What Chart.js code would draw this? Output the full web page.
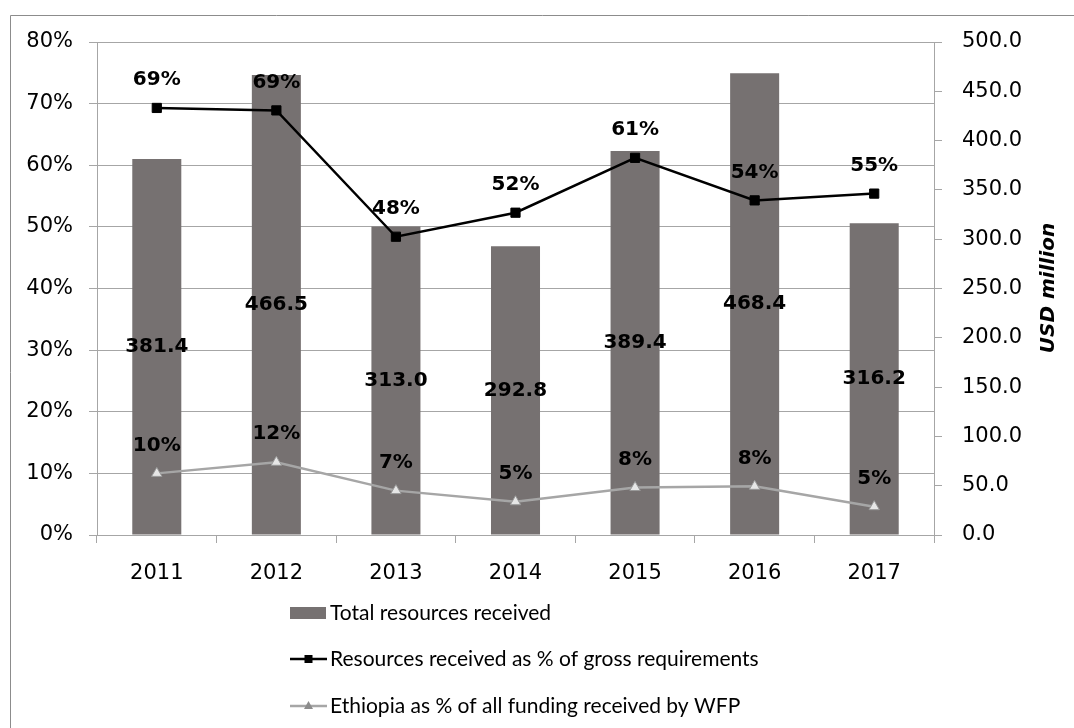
<!DOCTYPE html>
<html>
<head>
<meta charset="utf-8">
<script src="https://cdn.jsdelivr.net/npm/chart.js@4"></script>
<style>
  html, body { margin: 0; padding: 0; background: #fff; }
  #wrap { position: relative; width: 1074px; height: 728px; }
</style>
</head>
<body>
<div id="wrap"><canvas id="funding_chart" width="1074" height="728"></canvas></div>
<script>
// years on the x axis
const years = ['2011', '2012', '2013', '2014', '2015', '2016', '2017'];
// USD million, right axis
const totalReceived = [381.4, 466.5, 313.0, 292.8, 389.4, 468.4, 316.2];
// shares, left axis
const pctOfGross = [0.693, 0.689, 0.484, 0.523, 0.612, 0.543, 0.554];
const pctOfWfp = [0.100, 0.118, 0.072, 0.054, 0.077, 0.079, 0.046];

const seriesNames = [
  'Total resources received',
  'Resources received as % of gross requirements',
  'Ethiopia as % of all funding received by WFP'
];

const BAR_GREY = '#767171';
const LINE_GREY = '#a6a6a6';
const GRID = '#a6a6a6';
const TICK_FONT = { family: 'DejaVu Sans', size: 21 };

// kill the automatic label overhang so the plot box lands where we want it
function noOverhang(scale) {
  scale.paddingTop = 0;
  scale.paddingBottom = 0;
  scale.paddingLeft = 0;
  scale.paddingRight = 0;
}

const valueLabels = {
  id: 'valueLabels',
  afterDatasetsDraw(chart) {
    const ctx = chart.ctx;
    ctx.save();
    ctx.font = 'bold 20px "DejaVu Sans"';
    ctx.fillStyle = '#000';
    ctx.textAlign = 'center';
    ctx.textBaseline = 'middle';
    chart.data.datasets.forEach((ds, i) => {
      const meta = chart.getDatasetMeta(i);
      meta.data.forEach((el, j) => {
        const v = ds.data[j];
        if (ds.type === 'bar') {
          ctx.fillText(v.toFixed(1), el.x, (el.y + el.base) / 2);
        } else {
          ctx.fillText(Math.round(v * 100) + '%', el.x, el.y - 28);
        }
      });
    });
    ctx.restore();
  }
};

const frameAndLegend = {
  id: 'frameAndLegend',
  beforeDraw(chart) {
    const ctx = chart.ctx;
    ctx.save();
    ctx.strokeStyle = '#8c8c8c';
    ctx.lineWidth = 1;
    ctx.beginPath();
    ctx.moveTo(10.5, 740);
    ctx.lineTo(10.5, 15.5);
    ctx.lineTo(1080, 15.5);
    ctx.stroke();
    ctx.restore();
  },
  afterDraw(chart) {
    const ctx = chart.ctx;
    const x0 = 290, x1 = 327, tx = 330;
    const rows = [613, 659, 706];
    ctx.save();

    // bar swatch
    ctx.fillStyle = BAR_GREY;
    ctx.fillRect(x0, rows[0] - 6, x1 - x0 - 1, 12);

    // black line with square
    ctx.strokeStyle = '#000';
    ctx.lineWidth = 2.5;
    ctx.beginPath();
    ctx.moveTo(x0, rows[1]);
    ctx.lineTo(x1, rows[1]);
    ctx.stroke();
    ctx.fillStyle = '#000';
    ctx.fillRect((x0 + x1) / 2 - 4, rows[1] - 4, 8, 8);

    // grey line with triangle
    ctx.strokeStyle = LINE_GREY;
    ctx.beginPath();
    ctx.moveTo(x0, rows[2]);
    ctx.lineTo(x1, rows[2]);
    ctx.stroke();
    const cx = (x0 + x1) / 2;
    ctx.fillStyle = '#8c8c8c';
    ctx.beginPath();
    ctx.moveTo(cx, rows[2] - 5);
    ctx.lineTo(cx + 4.5, rows[2] + 3);
    ctx.lineTo(cx - 4.5, rows[2] + 3);
    ctx.closePath();
    ctx.fill();

    ctx.fillStyle = '#000';
    ctx.font = '21px Lato';
    ctx.textAlign = 'left';
    ctx.textBaseline = 'middle';
    seriesNames.forEach((name, i) => ctx.fillText(name, tx, rows[i]));

    // right axis title, reading bottom to top
    ctx.font = 'italic bold 20px "DejaVu Sans"';
    ctx.textAlign = 'center';
    ctx.translate(1049, 288);
    ctx.rotate(-Math.PI / 2);
    ctx.fillText('USD million', 0, 0);
    ctx.restore();
  }
};

new Chart(document.getElementById('funding_chart'), {
  data: {
    labels: years,
    datasets: [
      {
        type: 'line',
        label: seriesNames[1],
        data: pctOfGross,
        yAxisID: 'y',
        order: 1,
        borderColor: '#000',
        borderWidth: 2.5,
        pointStyle: 'rect',
        pointRadius: 6.5,
        pointBackgroundColor: '#000',
        pointBorderColor: '#000',
        pointBorderWidth: 1
      },
      {
        type: 'line',
        label: seriesNames[2],
        data: pctOfWfp,
        yAxisID: 'y',
        order: 2,
        borderColor: LINE_GREY,
        borderWidth: 2.5,
        pointStyle: 'triangle',
        pointRadius: 6,
        pointBackgroundColor: '#e6e6e6',
        pointBorderColor: '#999999',
        pointBorderWidth: 1
      },
      {
        type: 'bar',
        label: seriesNames[0],
        data: totalReceived,
        yAxisID: 'y1',
        order: 3,
        backgroundColor: BAR_GREY,
        barPercentage: 0.41,
        categoryPercentage: 1
      }
    ]
  },
  options: {
    responsive: false,
    animation: false,
    layout: { padding: { top: 42, left: 0, right: 0, bottom: 0 } },
    plugins: {
      legend: { display: false },
      tooltip: { enabled: false }
    },
    scales: {
      x: {
        offset: true,
        grid: { offset: true, drawOnChartArea: false, tickLength: 8, color: GRID },
        border: { color: GRID },
        ticks: { color: '#000', font: TICK_FONT, padding: 18 },
        afterFit(scale) { noOverhang(scale); scale.height = 728 - 535; }
      },
      y: {
        position: 'left',
        min: 0,
        max: 0.8,
        grid: { color: GRID, tickLength: 8 },
        border: { color: GRID },
        ticks: {
          stepSize: 0.1,
          color: '#000',
          font: TICK_FONT,
          padding: 16,
          callback: v => Math.round(v * 100) + '%'
        },
        afterFit(scale) { noOverhang(scale); scale.width = 97; }
      },
      y1: {
        position: 'right',
        min: 0,
        max: 500,
        grid: { drawOnChartArea: false, color: GRID, tickLength: 8 },
        border: { color: GRID },
        ticks: {
          stepSize: 50,
          color: '#000',
          font: TICK_FONT,
          padding: 20,
          callback: v => v.toFixed(1)
        },
        afterFit(scale) { noOverhang(scale); scale.width = 1074 - 934; }
      }
    }
  },
  plugins: [frameAndLegend, valueLabels]
});
</script>
</body>
</html>
